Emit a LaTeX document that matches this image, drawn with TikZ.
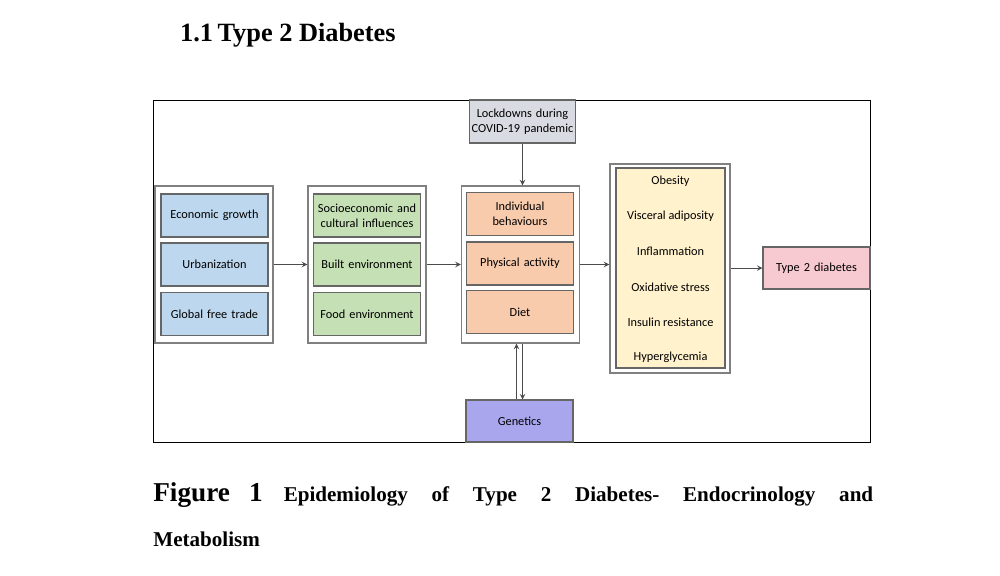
\documentclass[tikz,border=0pt]{standalone}
\usepackage{fontspec}
\setmainfont{Liberation Serif}
\newfontfamily\boxfont{Carlito}
\usetikzlibrary{positioning, arrows}
\definecolor{econblue}{HTML}{BDD7EE}
\definecolor{envgreen}{HTML}{C5E0B4}
\definecolor{behorange}{HTML}{F8CBAD}
\definecolor{outyellow}{HTML}{FFF2CC}
\definecolor{t2pink}{HTML}{F7C9D0}
\definecolor{genviolet}{HTML}{AAA6EE}
\definecolor{lockgray}{HTML}{D9DBE3}
\tikzstyle{arrow} = [draw=black!70, ->, >=stealth]
\tikzstyle{frame} = [rectangle, draw=black!50, thick, minimum width=2.36cm, minimum height=3.14cm]
\tikzstyle{box} = [rectangle, draw=black!60, semithick, font=\boxfont\fontsize{7}{8.5}\selectfont,
text width=2.05cm, align=center, minimum width=2.14cm, minimum height=0.86cm, inner sep=1pt]

\begin{document}
\begin{tikzpicture}[x=0.02cm, y=-0.02cm]
    \useasboundingbox (0,0) rectangle (1000,575);
    \node (Title) [anchor=west, font=\fontsize{15}{18}\selectfont\bfseries] at (174,35) {1.1\,Type 2 Diabetes};
    \node (Outer) [draw, thick, minimum width=14.34cm, minimum height=6.84cm, anchor=north west] at (153,100) {};

    \node (Lock) [box, fill=lockgray, minimum width=2.1cm] at (522.5,121.5) {Lockdowns during COVID-19 pandemic};

    \node (Macro) [frame] at (214,264.5) {};
	\node (Econ) [box, fill=econblue] at (214.5,215.5) {Economic growth};
	\node (Urban) [box, fill=econblue] at (214.5,264.5) {Urbanization};
	\node (Trade) [box, fill=econblue] at (214.5,314) {Global free trade};

    \node (Env) [frame] at (367,264.5) {};
	\node (Socio) [box, fill=envgreen] at (367,215.5) {Socioeconomic and cultural influences};
	\node (Built) [box, fill=envgreen] at (367,264.5) {Built environment};
	\node (Food) [box, fill=envgreen] at (367,314) {Food environment};

    \node (Behav) [frame] at (520.5,264.5) {};
	\node (Indiv) [box, fill=behorange] at (520,214) {Individual behaviours};
	\node (Phys) [box, fill=behorange] at (520,263.5) {Physical activity};
	\node (Diet) [box, fill=behorange] at (520,312) {Diet};

    \node (Risk) [frame, minimum width=2.4cm, minimum height=4.18cm] at (670,268.5) {};
    \node (RiskIn) [box, fill=outyellow, minimum width=2.18cm, minimum height=4cm] at (670.5,268) {};
    \foreach \y/\t in {181/Obesity, 216/Visceral adiposity, 251/Inflammation, 287/Oxidative stress, 322/Insulin resistance, 357/Hyperglycemia}
        \node [font=\boxfont\fontsize{7}{8.5}\selectfont] at (670.5,\y) {\t};

    \node (T2D) [box, fill=t2pink, minimum height=0.84cm] at (816.5,268) {Type 2 diabetes};
    \node (Gen) [box, fill=genviolet, minimum height=0.84cm] at (519.5,421) {Genetics};

    \draw [arrow] (Macro) -- (Env);
    \draw [arrow] (Env) -- (Behav);
    \draw [arrow] (Behav.east) -- (Behav.east -| Risk.west);
    \draw [arrow] (Risk.east |- T2D.west) -- (T2D.west);
    \draw [arrow] (Lock) -- (Lock |- Behav.north);
    \draw [arrow] ([xshift=-0.06cm]Gen.north) -- ([xshift=-0.06cm]Gen.north |- Behav.south);
    \draw [arrow] ([xshift=0.06cm]Behav.south -| Gen.north) -- ([xshift=0.06cm]Gen.north);

    \node (Caption) [anchor=north west, text width=14.4cm, align=justify, inner sep=0pt,
        font=\fontsize{12}{26}\selectfont\bfseries] at (153,482)
        {\hbox{\fontsize{15.5}{26}\selectfont Figure\hskip 0.7em 1}\quad Epidemiology of Type 2 Diabetes- Endocrinology and\linebreak Metabolism};
\end{tikzpicture}
\end{document}
